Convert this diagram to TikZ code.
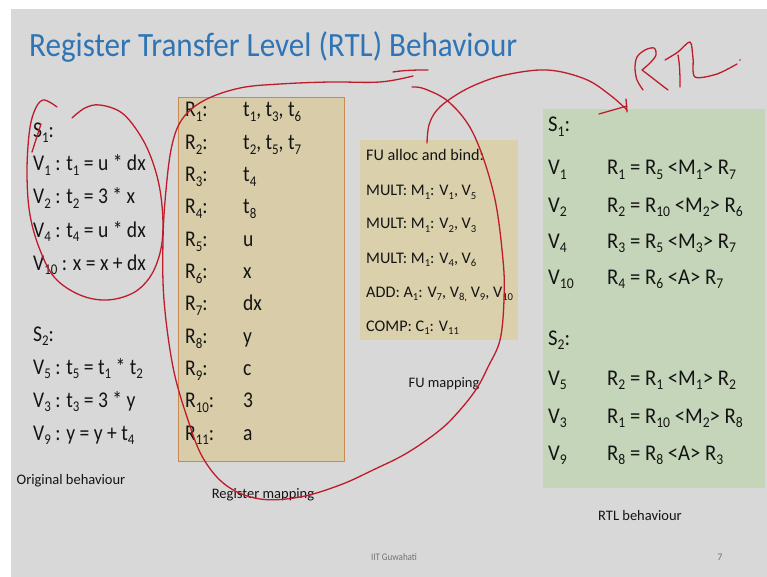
\documentclass[tikz,border=0pt]{standalone}
\usepackage{fontspec}
\setmainfont{Carlito}
\definecolor{slidegray}{RGB}{216,216,216}
\definecolor{titleblue}{RGB}{47,116,181}
\definecolor{tanfill}{RGB}{216,205,168}
\definecolor{tanfill2}{RGB}{218,208,172}
\definecolor{tanedge}{RGB}{200,138,84}
\definecolor{sage}{RGB}{196,213,185}
\definecolor{ink}{RGB}{190,28,42}
\definecolor{txt}{RGB}{20,20,20}
% subscript and narrow-set helpers
\newcommand\lw[1]{\raisebox{-0.22em}{\scalebox{0.66}{#1}}}
\newcommand\cxb[1]{\scalebox{0.87}[1]{#1}}
\newcommand\cxg[1]{\scalebox{0.92}[1]{#1}}
\newcommand\bigtxt{\fontsize{22.5}{27}\selectfont}
\newcommand\futxt{\fontsize{16.2}{19}\selectfont}
\newcommand\captxt{\fontsize{14.5}{17}\selectfont}
\begin{document}
\begin{tikzpicture}[x=1pt,y=-1pt,
  txtline/.style={anchor=base west,inner sep=0pt,text=txt},
  caplabel/.style={anchor=base,inner sep=0pt,text=txt,font=\captxt},
  panel/.style={anchor=north west,inner sep=0pt,outer sep=0pt},
  hand/.style={draw=ink,line width=1.3pt,line cap=round,line join=round}]
\useasboundingbox (0,0) rectangle (767,577);
\fill[white] (0,0) rectangle (767,577);
\fill[slidegray] (11,9) rectangle (767,577);

% title
\node[anchor=base west,inner sep=0pt,text=titleblue,font=\fontsize{34}{40}\selectfont]
  (title) at (29,57) {\scalebox{0.915}[1]{Register Transfer Level (RTL) Behaviour}};

% panels
\node[panel,fill=tanfill,draw=tanedge,line width=0.9pt,minimum width=166pt,minimum height=364pt] (reg) at (178,97) {};
\node[panel,fill=tanfill2,minimum width=158pt,minimum height=200pt] (fu) at (360,140) {};
\node[panel,fill=sage,minimum width=222pt,minimum height=379pt] (rtl) at (543,109) {};

% original behaviour
\begin{scope}[every node/.style={txtline,font=\bigtxt}]
\node (o1) at (33,138) {\cxb{S\lw{1}:}};
\node (o2) at (33,171) {\cxb{V\lw{1} : t\lw{1} = u * dx}};
\node (o3) at (33,204) {\cxb{V\lw{2} : t\lw{2} = 3 * x}};
\node (o4) at (33,237) {\cxb{V\lw{4} : t\lw{4} = u * dx}};
\node (o5) at (33,270) {\cxb{V\lw{10} : x = x + dx}};
\node (o6) at (33,341) {\cxb{S\lw{2}:}};
\node (o7) at (33,374) {\cxb{V\lw{5} : t\lw{5} = t\lw{1} * t\lw{2}}};
\node (o8) at (33,407) {\cxb{V\lw{3} : t\lw{3} = 3 * y}};
\node (o9) at (33,440) {\cxb{V\lw{9} : y = y + t\lw{4}}};
\end{scope}

% register mapping
\begin{scope}[every node/.style={txtline,font=\bigtxt}]
\foreach \k/\v [count=\i from 0] in {1/{t\lw{1}, t\lw{3}, t\lw{6}},2/{t\lw{2}, t\lw{5}, t\lw{7}},3/t\lw{4},4/t\lw{8},5/u,6/x,7/dx,8/y,9/c,10/3,11/a}{
  \node (rk\k) at (185,117+32.3*\i) {\cxb{R\lw{\k}:}};
  \node (rv\k) at (243,117+32.3*\i) {\cxb{\v}};
}
\end{scope}

% FU allocation
\begin{scope}[every node/.style={txtline,font=\futxt}]
\node (f0) at (366,161) {FU alloc and bind:};
\node (f1) at (366,195.5) {MULT: M\lw{1}: V\lw{1}, V\lw{5}};
\node (f2) at (366,229) {MULT: M\lw{1}: V\lw{2}, V\lw{3}};
\node (f3) at (366,263) {MULT: M\lw{1}: V\lw{4}, V\lw{6}};
\node (f4) at (366,297) {ADD: A\lw{1}: V\lw{7}, V\lw{8,} V\lw{9}, V\lw{10}};
\node (f5) at (366,331) {COMP: C\lw{1}: V\lw{11}};
\end{scope}

% RTL behaviour
\begin{scope}[every node/.style={txtline,font=\bigtxt}]
\node (s1) at (548,132) {\cxg{S\lw{1}:}};
\node (a1) at (548,175) {\cxg{V\lw{1}}};  \node (b1) at (607,175) {\cxg{R\lw{1} = R\lw{5} <M\lw{1}> R\lw{7}}};
\node (a2) at (548,212) {\cxg{V\lw{2}}};  \node (b2) at (607,212) {\cxg{R\lw{2} = R\lw{10} <M\lw{2}> R\lw{6}}};
\node (a3) at (548,248) {\cxg{V\lw{4}}};  \node (b3) at (607,248) {\cxg{R\lw{3} = R\lw{5} <M\lw{3}> R\lw{7}}};
\node (a4) at (548,284) {\cxg{V\lw{10}}}; \node (b4) at (607,284) {\cxg{R\lw{4} = R\lw{6} <A> R\lw{7}}};
\node (s2) at (548,345) {\cxg{S\lw{2}:}};
\node (a5) at (548,385) {\cxg{V\lw{5}}};  \node (b5) at (607,385) {\cxg{R\lw{2} = R\lw{1} <M\lw{1}> R\lw{2}}};
\node (a6) at (548,423) {\cxg{V\lw{3}}};  \node (b6) at (607,423) {\cxg{R\lw{1} = R\lw{10} <M\lw{2}> R\lw{8}}};
\node (a7) at (548,460) {\cxg{V\lw{9}}};  \node (b7) at (607,460) {\cxg{R\lw{8} = R\lw{8} <A> R\lw{3}}};
\end{scope}

% captions and footer
\node[caplabel] (c1) at (71,484) {Original behaviour};
\node[caplabel] (c2) at (263,498) {Register mapping};
\node[caplabel] (c3) at (444,387) {FU mapping};
\node[caplabel] (c4) at (640,520) {RTL behaviour};
\node[anchor=base,inner sep=0pt,text=black!55,font=\fontsize{10}{12}\selectfont] (foot) at (394,560) {\scalebox{0.9}[1]{IIT Guwahati}};
\node[anchor=base,inner sep=0pt,text=black!55,font=\fontsize{10}{12}\selectfont] (pg) at (720,560) {7};

% hand-drawn loop round the first control step
\draw[hand] plot[smooth,tension=0.6] coordinates {(57,107) (43,100) (34,112) (29,135) (27,175) (30,215) (40,250) (55,278) (80,295) (107,300) (133,293) (150,277) (160,253) (163,225) (160,190) (152,160) (140,135) (122,113) (100,105) (85,108) (72,118)};
\draw[hand] (32,152) -- (41,124);

% hand-drawn loop round register and FU mapping
\draw[hand] plot[smooth,tension=0.6] coordinates {(413,76) (380,82) (330,82) (280,84) (240,88) (205,100) (183,118) (172,145) (166,190) (163,240) (164,300) (173,367) (187,417) (203,458) (227,486) (260,499) (300,497) (340,485) (373,470) (407,453) (440,430) (460,410) (477,388) (488,367) (500,340) (504,300) (503,260) (494,195) (474,135) (450,103) (425,89) (412,87)};
\draw[hand] (393,72) .. controls (405,70) and (418,70) .. (428,70);

% arrow from FU mapping to RTL behaviour
\coordinate (fuTop) at (427,143);
\coordinate (rtlTip) at (627,110);
\draw[hand] plot[smooth,tension=0.6] coordinates {(fuTop) (429,125) (437,110) (453,97) (475,85) (505,75) (547,70) (585,79) (610,95) (rtlTip)};
\draw[hand] (599,114) -- (627,106);
\draw[hand] (626,99) -- (627,112);

% handwritten RTL
\draw[hand] plot[smooth,tension=0.55] coordinates {(643,90) (637,80) (635,68) (637,57) (645,50) (654,48) (656,55) (650,63) (642,70)};
\draw[hand] (642,70) .. controls (650,76) and (660,84) .. (668,90);
\draw[hand] plot[smooth,tension=0.5] coordinates {(665,60) (678,52) (690,42) (693,58) (695,77) (717,74) (737,64)};
\draw[hand] (678,55) .. controls (680,66) and (680,77) .. (680,87);
\fill[ink] (740,60) circle (0.9pt);
\end{tikzpicture}
\end{document}
